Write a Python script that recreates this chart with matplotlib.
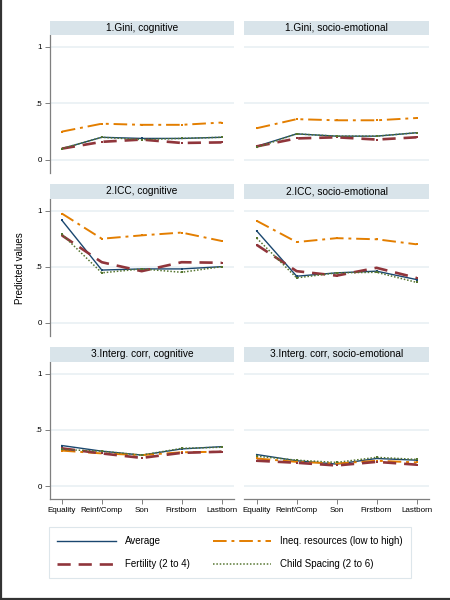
import numpy as np
import matplotlib
matplotlib.use('Agg')
import matplotlib.pyplot as plt
from matplotlib.lines import Line2D

plt.rcParams['font.family'] = ['Liberation Sans', 'DejaVu Sans']

categories = ['Equality', 'Reinf/Comp', 'Son', 'Firstborn', 'Lastborn']
series_names = ['Average', 'Ineq. resources (low to high)',
                'Fertility (2 to 4)', 'Child Spacing (2 to 6)']
panel_titles = ['1.Gini, cognitive', '1.Gini, socio-emotional',
                '2.ICC, cognitive', '2.ICC, socio-emotional',
                '3.Interg. corr, cognitive', '3.Interg. corr, socio-emotional']

# values per panel: average, ineq, fertility, spacing
gini_cog_avg = [0.10, 0.20, 0.19, 0.19, 0.20]
gini_cog_ineq = [0.25, 0.32, 0.31, 0.31, 0.33]
gini_cog_fert = [0.10, 0.16, 0.18, 0.15, 0.155]
gini_cog_spac = [0.10, 0.20, 0.18, 0.19, 0.20]

gini_soc_avg = [0.12, 0.23, 0.21, 0.21, 0.24]
gini_soc_ineq = [0.28, 0.36, 0.35, 0.35, 0.37]
gini_soc_fert = [0.12, 0.19, 0.20, 0.18, 0.20]
gini_soc_spac = [0.11, 0.23, 0.21, 0.21, 0.24]

icc_cog_avg = [0.915, 0.47, 0.48, 0.48, 0.50]
icc_cog_ineq = [0.975, 0.75, 0.78, 0.805, 0.73]
icc_cog_fert = [0.78, 0.54, 0.46, 0.54, 0.535]
icc_cog_spac = [0.79, 0.445, 0.48, 0.45, 0.50]

icc_soc_avg = [0.82, 0.415, 0.445, 0.46, 0.385]
icc_soc_ineq = [0.91, 0.72, 0.755, 0.745, 0.70]
icc_soc_fert = [0.695, 0.46, 0.42, 0.49, 0.40]
icc_soc_spac = [0.755, 0.40, 0.445, 0.45, 0.36]

ic_cog_avg = [0.36, 0.31, 0.275, 0.33, 0.35]
ic_cog_ineq = [0.315, 0.29, 0.275, 0.30, 0.305]
ic_cog_fert = [0.335, 0.29, 0.25, 0.295, 0.305]
ic_cog_spac = [0.325, 0.31, 0.275, 0.335, 0.345]

ic_soc_avg = [0.28, 0.225, 0.195, 0.245, 0.23]
ic_soc_ineq = [0.245, 0.215, 0.20, 0.225, 0.21]
ic_soc_fert = [0.225, 0.207, 0.183, 0.215, 0.19]
ic_soc_spac = [0.265, 0.23, 0.21, 0.255, 0.237]

panel_data = [
    [gini_cog_avg, gini_cog_ineq, gini_cog_fert, gini_cog_spac],
    [gini_soc_avg, gini_soc_ineq, gini_soc_fert, gini_soc_spac],
    [icc_cog_avg, icc_cog_ineq, icc_cog_fert, icc_cog_spac],
    [icc_soc_avg, icc_soc_ineq, icc_soc_fert, icc_soc_spac],
    [ic_cog_avg, ic_cog_ineq, ic_cog_fert, ic_cog_spac],
    [ic_soc_avg, ic_soc_ineq, ic_soc_fert, ic_soc_spac],
]

colors = ['#1a476f', '#e37e00', '#90353b', '#55752f']
styles = [
    dict(linestyle='-', linewidth=1.0),
    dict(linestyle=(0, (7, 2.5, 1.5, 2.5)), linewidth=1.4),
    dict(linestyle=(0, (5, 3)), linewidth=1.9),
    dict(linestyle=(0, (1, 1.2)), linewidth=1.1),
]
header_color = '#d9e4ea'
grid_color = '#e9f0f3'
spine_color = '#7f7f7f'

W, H = 450.0, 600.0
col_x = [(49.5, 234.3), (244.3, 429.3)]
rows = [(20.7, 34.7, 173.0), (184.0, 199.0, 335.5), (346.7, 361.7, 499.0)]

fig = plt.figure(figsize=(4.5, 6), dpi=100)
fig.patch.set_facecolor('white')

x = np.arange(1, len(categories) + 1)
handles = []

for r, (h_top, p_top, p_bot) in enumerate(rows):
    for c, (x0, x1) in enumerate(col_x):
        idx = r * 2 + c
        ax = fig.add_axes([x0 / W, 1 - p_bot / H, (x1 - x0) / W,
                           (p_bot - p_top) / H])
        hax = fig.add_axes([x0 / W, 1 - p_top / H, (x1 - x0) / W,
                            (p_top - h_top) / H])
        hax.set_facecolor(header_color)
        hax.set_xticks([])
        hax.set_yticks([])
        for s in hax.spines.values():
            s.set_visible(False)
        hax.text(0.5, 0.5, panel_titles[idx], ha='center', va='center',
                 fontsize=7.3, transform=hax.transAxes)

        ax.set_xlim(0.69, 5.32)
        ax.set_ylim(-0.115, 1.105)
        for yv in [0, 0.5, 1]:
            ax.axhline(yv, color=grid_color, linewidth=1.2, zorder=0)

        for k in range(4):
            ax.plot(x, panel_data[idx][k], color=colors[k],
                    marker='s', markersize=1.5, markeredgewidth=0,
                    **styles[k])
            if idx == 0:
                handles.append(Line2D([], [], color=colors[k], **styles[k]))

        for s in ['top', 'right']:
            ax.spines[s].set_visible(False)
        ax.spines['left'].set_color(spine_color)
        ax.spines['bottom'].set_color(spine_color)
        ax.spines['left'].set_linewidth(0.9)
        ax.spines['bottom'].set_linewidth(0.9)
        ax.tick_params(axis='both', length=3.5, width=0.7, color=spine_color,
                       labelsize=5.8, pad=2)

        if c == 0:
            ax.set_yticks([0, 0.5, 1])
            ax.set_yticklabels(['0', '.5', '1'])
        else:
            ax.spines['left'].set_visible(False)
            ax.set_yticks([])

        if r == 2:
            ax.set_xticks(x)
            ax.set_xticklabels(categories)
        else:
            ax.spines['bottom'].set_visible(False)
            ax.set_xticks([])

fig.text(20 / W, 1 - 268 / H, 'Predicted values', rotation=90,
         ha='center', va='center', fontsize=7)

# legend is filled column-wise, so reorder to get rows Avg/Ineq, Fert/Spac
order = [0, 2, 1, 3]
leg = fig.legend([handles[i] for i in order], [series_names[i] for i in order],
                 loc='center', bbox_to_anchor=(230 / W, 1 - 552.5 / H),
                 ncol=2, fontsize=7, handlelength=6.0, handletextpad=0.9,
                 columnspacing=2.4, labelspacing=1.35, borderpad=0.9,
                 frameon=True, fancybox=False)
leg.get_frame().set_edgecolor('#d5e0e6')
leg.get_frame().set_linewidth(0.8)

# outer frame lines at left and bottom
fig.add_artist(Line2D([1.2 / W, 1.2 / W], [0, 1], color='#333333',
                      linewidth=1.6, transform=fig.transFigure))
fig.add_artist(Line2D([0, 1], [1 - 598.5 / H, 1 - 598.5 / H],
                      color='#333333', linewidth=1.6,
                      transform=fig.transFigure))

plt.savefig('out.png', dpi=100)
